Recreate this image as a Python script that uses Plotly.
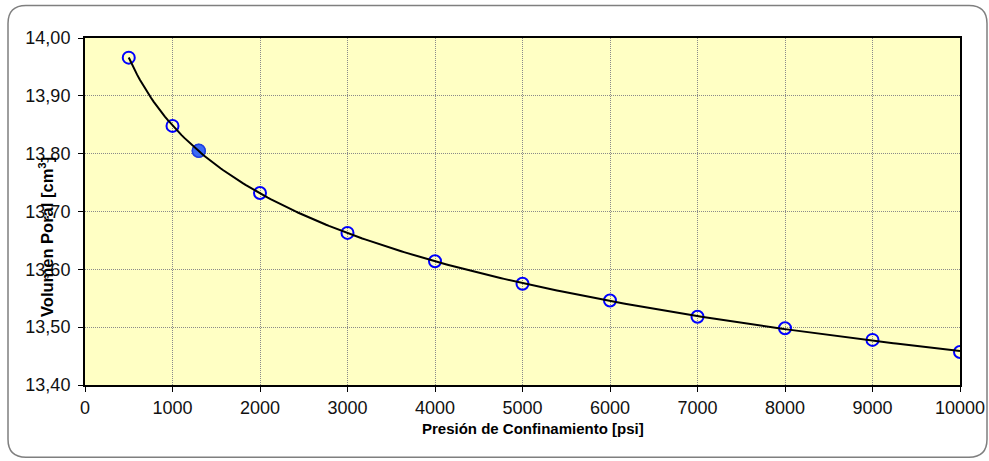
import numpy as np
import plotly.graph_objects as go

# Confining pressure [psi] and measured pore volume [cm3]
pressure = [500, 1000, 1300, 2000, 3000, 4000, 5000, 6000, 7000, 8000, 9000, 10000]
pore_volume = [13.966, 13.848, 13.805, 13.732, 13.663, 13.614, 13.575, 13.546, 13.518, 13.498, 13.478, 13.457]
highlight_pressure = [1300]
highlight_volume = [13.805]

x_ticks = [0, 1000, 2000, 3000, 4000, 5000, 6000, 7000, 8000, 9000, 10000]
x_tick_labels = ["0", "1000", "2000", "3000", "4000", "5000", "6000", "7000", "8000", "9000", "10000"]
y_ticks = [13.40, 13.50, 13.60, 13.70, 13.80, 13.90, 14.00]
y_tick_labels = ["13,40", "13,50", "13,60", "13,70", "13,80", "13,90", "14,00"]

# Logarithmic trend line fitted to the measurements
coef = np.polyfit(np.log(pressure), pore_volume, 1)
trend_p = np.linspace(min(pressure), max(pressure), 300)
trend_v = coef[0] * np.log(trend_p) + coef[1]

W, H = 989, 461
ML, MR, MT, MB = 85, 29, 37.5, 75.5
PW, PH = W - ML - MR, H - MT - MB


def px(x):
    return (x - ML) / PW


def py(y):
    return 1 - (y - MT) / PH


fig = go.Figure()
fig.add_trace(go.Scatter(
    x=pressure, y=pore_volume, mode="markers",
    marker=dict(symbol="circle", size=12, color="rgba(0,0,0,0)",
                line=dict(color="#0000FF", width=2)),
    showlegend=False, hoverinfo="x+y"))
fig.add_trace(go.Scatter(
    x=highlight_pressure, y=highlight_volume, mode="markers",
    marker=dict(symbol="circle", size=13, color="#3B6BF4",
                line=dict(color="#1F3FE0", width=1.5)),
    showlegend=False, hoverinfo="x+y"))
fig.add_trace(go.Scatter(
    x=trend_p, y=trend_v, mode="lines",
    line=dict(color="#000000", width=2),
    showlegend=False, hoverinfo="skip"))

axis_common = dict(
    showline=True, linecolor="#000000", linewidth=2, mirror=True,
    ticks="outside", ticklen=5, tickcolor="#000000", tickwidth=1,
    showgrid=True, gridcolor="#8A8A8A", gridwidth=1, griddash="1px,1px",
    zeroline=False, automargin=False,
    tickfont=dict(family="Liberation Sans, Arial", size=18, color="#111111"),
)

fig.update_xaxes(range=[0, 10000], tickvals=x_ticks, ticktext=x_tick_labels, **axis_common)
fig.update_yaxes(range=[13.40, 14.00], tickvals=y_ticks, ticktext=y_tick_labels,
                 ticklabelstandoff=4, **axis_common)

# Rounded chart-area border
l, t, r, b, rad = 8, 5, 987, 458, 18
path = (
    f"M {px(l + rad)},{py(t)} L {px(r - rad)},{py(t)} "
    f"Q {px(r)},{py(t)} {px(r)},{py(t + rad)} "
    f"L {px(r)},{py(b - rad)} Q {px(r)},{py(b)} {px(r - rad)},{py(b)} "
    f"L {px(l + rad)},{py(b)} Q {px(l)},{py(b)} {px(l)},{py(b - rad)} "
    f"L {px(l)},{py(t + rad)} Q {px(l)},{py(t)} {px(l + rad)},{py(t)} Z"
)
fig.add_shape(type="path", path=path, xref="paper", yref="paper",
              line=dict(color="#7F7F7F", width=1.5), layer="below")

fig.add_annotation(
    text="Presión de Confinamiento [psi]", xref="paper", yref="paper",
    x=px(533), y=py(440), showarrow=False,
    font=dict(family="Liberation Sans, Arial", size=15, color="#000000", weight="bold"))
fig.add_annotation(
    text="Volumen Poral [cm<sup>3</sup>]", xref="paper", yref="paper",
    x=px(34), y=py(237), showarrow=False, textangle=-90,
    font=dict(family="Liberation Sans, Arial", size=16.5, color="#000000", weight="bold"))

fig.update_layout(
    width=W, height=H,
    margin=dict(l=ML, r=MR, t=MT, b=MB),
    paper_bgcolor="#FFFFFF", plot_bgcolor="#FFFFC4",
    showlegend=False,
)

fig.write_html("out.html")
